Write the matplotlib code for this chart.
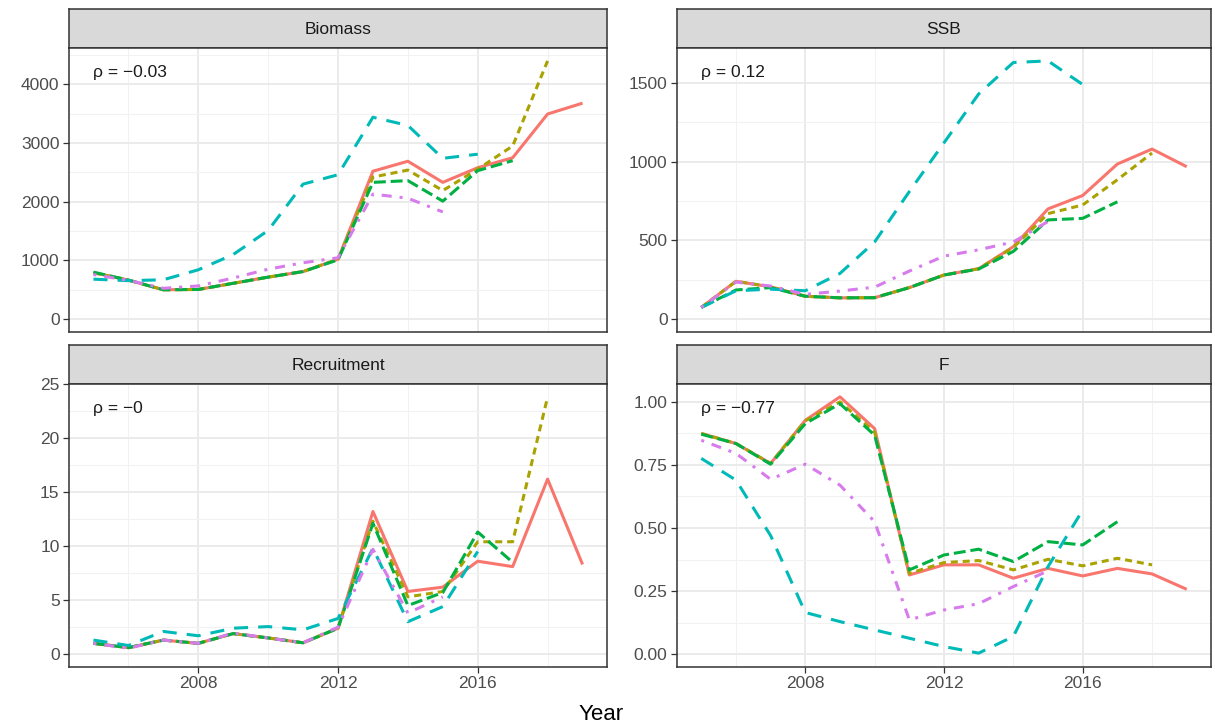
import matplotlib
matplotlib.use("Agg")
import matplotlib.pyplot as plt
from matplotlib.ticker import FixedLocator

plt.rcParams['font.family'] = ['Liberation Sans', 'DejaVu Sans']

years = list(range(2005, 2020))

# ---- data ----
biomass_2019 = [790, 665, 500, 505, 610, 715, 810, 1020, 2520, 2690, 2330, 2580, 2750, 3495, 3680]
biomass_2018 = [790, 665, 500, 505, 610, 715, 810, 1020, 2420, 2540, 2190, 2556, 2950, 4400]
biomass_2017 = [800, 665, 500, 505, 610, 715, 810, 1010, 2330, 2360, 2010, 2530, 2700]
biomass_2016 = [680, 655, 670, 840, 1100, 1510, 2300, 2460, 3440, 3300, 2740, 2810]
biomass_2015 = [760, 660, 525, 565, 700, 850, 960, 1045, 2130, 2060, 1826]

ssb_2019 = [74, 240, 205, 145, 135, 136, 200, 280, 320, 460, 700, 785, 985, 1080, 968]
ssb_2018 = [74, 240, 205, 145, 135, 136, 200, 280, 320, 455, 670, 725, 885, 1055]
ssb_2017 = [74, 185, 200, 145, 135, 136, 200, 280, 318, 430, 630, 640, 745]
ssb_2016 = [74, 180, 190, 180, 290, 490, 810, 1120, 1430, 1630, 1640, 1490]
ssb_2015 = [74, 235, 210, 157, 178, 203, 305, 400, 440, 490, 620]

rec_2019 = [1.0, 0.6, 1.3, 1.0, 1.9, 1.5, 1.05, 2.4, 13.2, 5.8, 6.2, 8.6, 8.1, 16.2, 8.3]
rec_2018 = [1.0, 0.6, 1.3, 1.0, 1.9, 1.5, 1.05, 2.4, 12.3, 5.3, 5.8, 10.4, 10.4, 23.8]
rec_2017 = [1.0, 0.6, 1.3, 1.0, 1.9, 1.5, 1.05, 2.4, 12.1, 4.5, 5.7, 11.3, 8.5]
rec_2016 = [1.3, 0.8, 2.1, 1.7, 2.4, 2.55, 2.25, 3.3, 9.8, 3.0, 4.4, 9.5]
rec_2015 = [1.0, 0.55, 1.3, 1.0, 1.95, 1.5, 1.05, 2.5, 9.7, 3.8, 5.3]

f_2019 = [0.875, 0.835, 0.756, 0.927, 1.02, 0.894, 0.314, 0.354, 0.354, 0.301, 0.340, 0.310, 0.340, 0.318, 0.257]
f_2018 = [0.875, 0.835, 0.756, 0.925, 1.00, 0.880, 0.320, 0.363, 0.371, 0.334, 0.376, 0.350, 0.380, 0.354]
f_2017 = [0.872, 0.835, 0.753, 0.914, 0.993, 0.868, 0.334, 0.393, 0.416, 0.367, 0.446, 0.433, 0.525]
f_2016 = [0.776, 0.690, 0.470, 0.165, 0.129, 0.096, 0.063, 0.030, 0.004, 0.070, 0.347, 0.571]
f_2015 = [0.848, 0.796, 0.693, 0.753, 0.670, 0.525, 0.136, 0.175, 0.200, 0.268, 0.330]

panel_titles = ["Biomass", "SSB", "Recruitment", "F"]
rho_labels = ["\u03c1 = \u22120.03", "\u03c1 = 0.12", "\u03c1 = \u22120", "\u03c1 = \u22120.77"]
x_ticks = [2008, 2012, 2016]
y_ticks = [[0, 1000, 2000, 3000, 4000], [0, 500, 1000, 1500],
           [0, 5, 10, 15, 20, 25], [0, 0.25, 0.5, 0.75, 1.0]]
y_ticklabels = [["0", "1000", "2000", "3000", "4000"], ["0", "500", "1000", "1500"],
                ["0", "5", "10", "15", "20", "25"], ["0.00", "0.25", "0.50", "0.75", "1.00"]]

panel_series = [
    [biomass_2019, biomass_2018, biomass_2017, biomass_2016, biomass_2015],
    [ssb_2019, ssb_2018, ssb_2017, ssb_2016, ssb_2015],
    [rec_2019, rec_2018, rec_2017, rec_2016, rec_2015],
    [f_2019, f_2018, f_2017, f_2016, f_2015],
]

colors = ["#F8766D", "#A9A200", "#00B043", "#00BAB8", "#D77CEB"]
styles = ["-", (0, (2.3, 1.6)), (0, (3.9, 1.6)), (0, (4.6, 3.3)), (0, (1.0, 2.6, 3.3, 2.6))]

W, H = 1215, 728
fig = plt.figure(figsize=(W / 100, H / 100), dpi=100)
fig.patch.set_facecolor("white")

def px_axes(x0, y0, x1, y1):
    return fig.add_axes([x0 / W, 1 - y1 / H, (x1 - x0) / W, (y1 - y0) / H])

cols = [(69, 607), (677, 1211)]
rows = [(9, 48, 332), (345, 384, 667)]

border = "#333333"
for i in range(4):
    r, c = divmod(i, 2)
    x0, x1 = cols[c]
    st, pt, pb = rows[r]
    # strip
    sax = px_axes(x0, st, x1, pt)
    sax.set_facecolor("#D9D9D9")
    sax.set_xticks([]); sax.set_yticks([])
    for s in sax.spines.values():
        s.set_color(border); s.set_linewidth(1.1)
    sax.text(0.5, 0.48, panel_titles[i], ha="center", va="center",
             fontsize=12.5, color="#1A1A1A", transform=sax.transAxes)
    # panel
    ax = px_axes(x0, pt, x1, pb)
    ax.set_facecolor("white")
    for k, ser in enumerate(panel_series[i]):
        ax.plot(years[:len(ser)], ser, color=colors[k], linestyle=styles[k],
                linewidth=2.2, solid_capstyle="butt", dash_capstyle="butt", zorder=3 + k)
    ymax = max(max(s) for s in panel_series[i])
    ax.set_ylim(-0.05 * ymax, 1.05 * ymax)
    ax.set_xlim(2004.3, 2019.7)
    ax.set_xticks(x_ticks)
    ax.xaxis.set_minor_locator(FixedLocator([2006, 2010, 2014, 2018]))
    yt = y_ticks[i]
    ax.set_yticks(yt)
    ax.set_yticklabels(y_ticklabels[i])
    step = yt[1] - yt[0]
    ax.yaxis.set_minor_locator(FixedLocator([v + step / 2 for v in yt] + [yt[0] - step / 2]))
    ax.grid(which="major", color="#EBEBEB", linewidth=1.4, zorder=0)
    ax.grid(which="minor", color="#F2F2F2", linewidth=0.8, zorder=0)
    ax.set_axisbelow(True)
    for s in ax.spines.values():
        s.set_color(border); s.set_linewidth(1.1)
    ax.tick_params(axis="both", which="major", length=4.3, width=0.9, color=border,
                   labelsize=12.5, labelcolor="#4D4D4D", pad=2.5)
    ax.tick_params(axis="both", which="minor", length=0)
    if r == 0:
        ax.tick_params(axis="x", which="major", length=0, labelbottom=False)
    ax.text(0.045, 0.915, rho_labels[i], transform=ax.transAxes, ha="left", va="center",
            fontsize=12.5, color="#1A1A1A", family=["Liberation Sans", "DejaVu Sans"])

fig.text(601 / W, 1 - 715 / H, "Year", ha="center", va="center", fontsize=16, color="black")

fig.savefig("out.png", dpi=100)
